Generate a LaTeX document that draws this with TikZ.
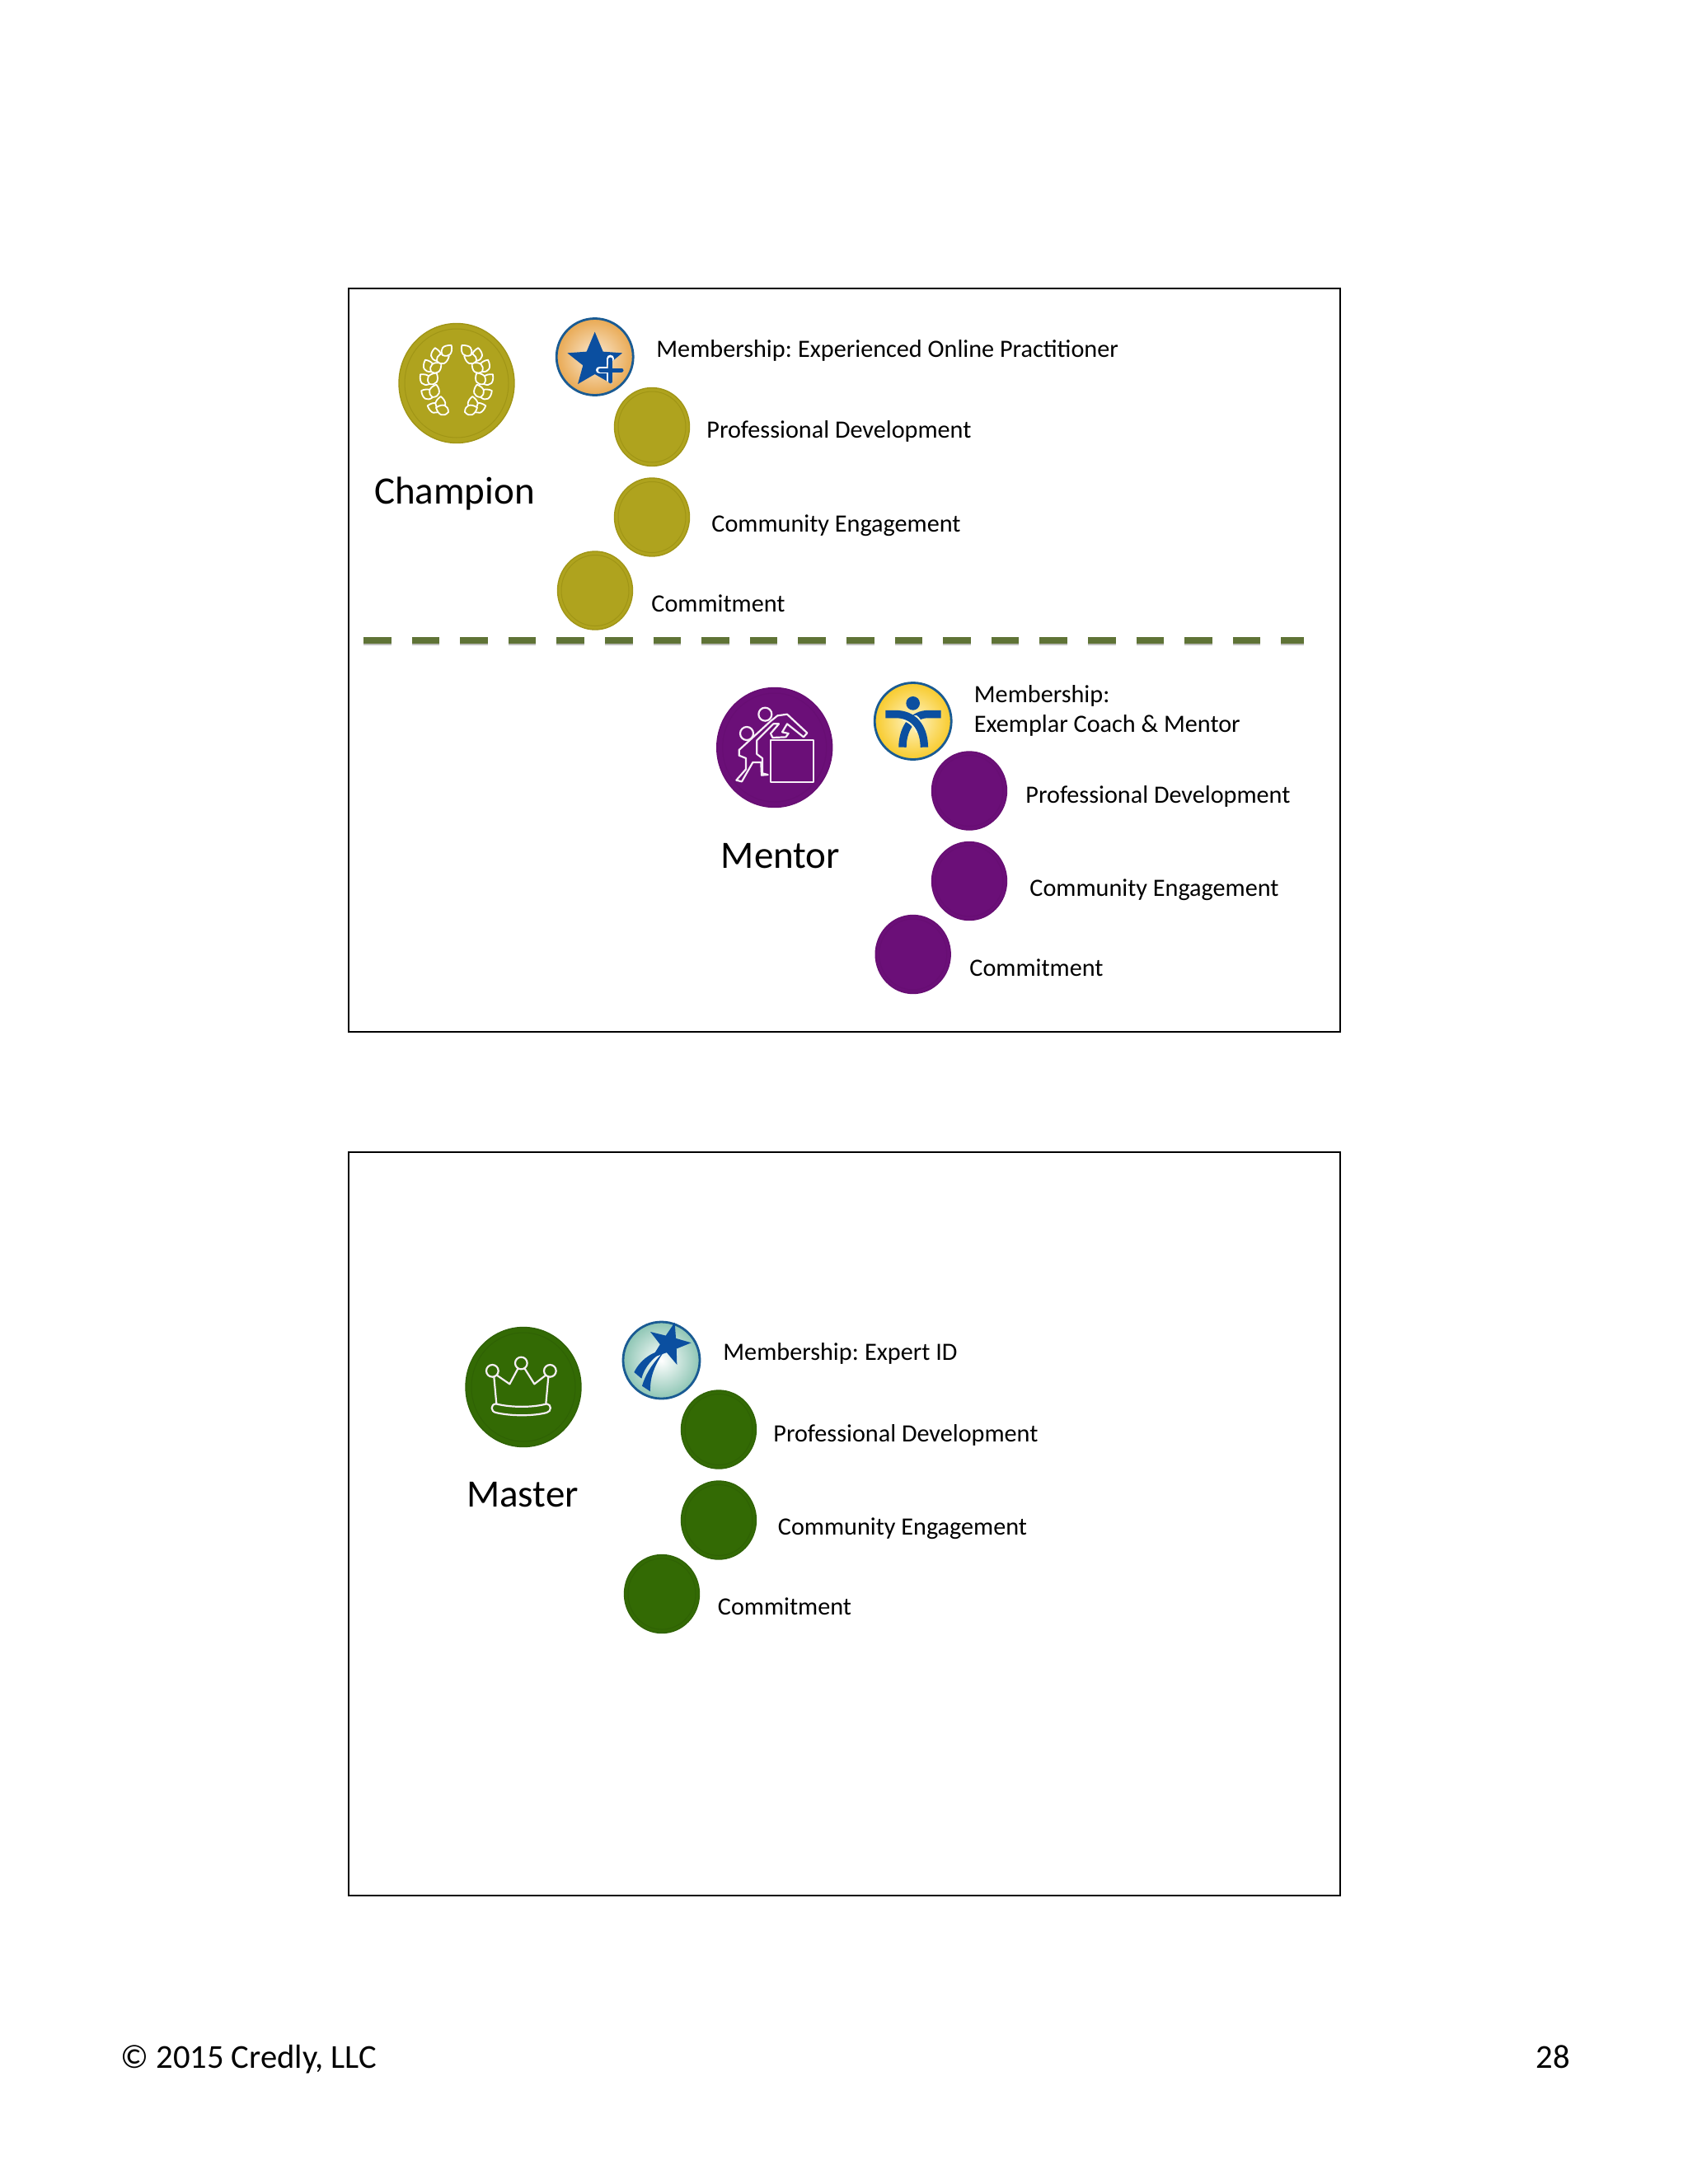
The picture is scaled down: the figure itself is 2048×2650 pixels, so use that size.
\documentclass[tikz,border=0pt]{standalone}
\usepackage{fontspec}
\setmainfont[Ligatures=Common]{Carlito}
\usetikzlibrary{shapes.geometric}
\definecolor{goldc}{HTML}{AFA31E}
\definecolor{goldr}{HTML}{A09516}
\definecolor{purpc}{HTML}{6B0F78}
\definecolor{purpr}{HTML}{670E73}
\definecolor{grnc}{HTML}{336A04}
\definecolor{grnr}{HTML}{2F6204}
\definecolor{dashc}{HTML}{5F7336}
\definecolor{bluec}{HTML}{0B4FA0}
\definecolor{ringc}{HTML}{1A5B93}
\definecolor{orangeo}{HTML}{E9AA55}
\definecolor{orangei}{HTML}{FBEBD5}
\definecolor{yello}{HTML}{F8CB2E}
\definecolor{yeli}{HTML}{FFF5C8}
\definecolor{tealo}{HTML}{8FC6B5}
\definecolor{iconw}{HTML}{F6EEF6}
\tikzset{
  frameb/.style={draw=black,line width=1pt,fill=white},
  lab/.style={anchor=mid west,inner sep=0pt,font=\fontsize{15.1}{18}\selectfont,text=black},
  lablines/.style={anchor=west,inner sep=0pt,align=left,font=\fontsize{15.1}{18}\selectfont,text=black},
  big/.style={anchor=mid,inner sep=0pt,font=\fontsize{23.5}{28}\selectfont,text=black},
  foot/.style={anchor=mid west,inner sep=0pt,font=\fontsize{20.3}{24}\selectfont,text=black},
  coinb/.style={ellipse,inner sep=0pt,minimum width=45.5pt,minimum height=47.5pt,line width=.7pt},
  bigcoin/.style={ellipse,inner sep=0pt,minimum width=140*.5pt,minimum height=145*.5pt,line width=.7pt},
  badge/.style={circle,inner sep=0pt,minimum size=46.5pt,draw=ringc,line width=1.4pt},
  icon/.style={draw=iconw,line width=1.1pt,line join=round,line cap=round},
  leafline/.style={draw=white,line width=.9pt,fill=goldc,line join=round},
}
\newcommand{\smallcoin}[5]{%
  \node[coinb,fill=#4,draw=#5] (#1) at (#2,#3) {};
  \draw[#5,line width=.5pt] (#1.center) ellipse [x radius=20.5pt,y radius=21.5pt];}
\newcommand{\largecoin}[5]{%
  \node[bigcoin,fill=#4,draw=#5] (#1) at (#2,#3) {};
  \draw[#5,line width=.5pt] (#1.center) ellipse [x radius=31.5pt,y radius=33pt];}
\newcommand{\leaf}[3]{% x,y,canvas angle
  \draw[leafline,shift={(#1,#2)},rotate=#3] (0,0) .. controls (3,-8) and (10,-8) .. (16,0) .. controls (10,8) and (3,8) .. (0,0) -- cycle;}
\begin{document}
\begin{tikzpicture}[x=.5pt,y=-.5pt]
\useasboundingbox (0,0) rectangle (2048,2650);
\fill[white] (0,0) rectangle (2048,2650);
% frames
\draw[frameb] (422.5,350) rectangle (1626,1252);
\draw[frameb] (422.5,1398) rectangle (1626,2300);
% ===== Champion
\largecoin{chbig}{554}{465}{goldc}{goldr}
\begin{scope}[shift={(554,465)}]
  \foreach \s in {-1,1}{
    \begin{scope}[xscale=\s]
    \foreach \px/\py/\d in {-20/32/125,-29/17/112,-33/1/95,-31/-14/78,-24/-27/60}{
      \leaf{\px}{\py}{\d+38}
      \leaf{\px}{\py}{\d-38}
    }
    \leaf{-17}{-34}{48}
    \leaf{-10}{35}{160}
    \end{scope}
  }
\end{scope}
\node[big] (chlab) at (551.5,607) {Champion};
\shade[inner color=orangei,outer color=orangeo] (721.7,433) circle (23pt);
\node[badge] (chbadge) at (721.7,433) {};
\begin{scope}[shift={(670,380)},scale=1/3]
  \fill[bluec,line join=round] (155,68) -- (185,140) -- (255,145) -- (200,190) -- (218,258) -- (155,222) -- (93,258) -- (112,190) -- (55,145) -- (125,140) -- cycle;
  \begin{scope}
    \clip (155,68) -- (185,140) -- (255,145) -- (200,190) -- (218,258) -- (155,222) -- (93,258) -- (112,190) -- (55,145) -- (125,140) -- cycle;
    \draw[white,line width=4.4pt,line cap=round] (212,165) -- (212,250) (172,207) -- (255,207);
  \end{scope}
  \draw[bluec,line width=2.5pt,line cap=round] (212,168) -- (212,248) (175,207) -- (252,207);
\end{scope}
\smallcoin{chpd}{791}{518}{goldc}{goldr}
\smallcoin{chce}{791}{627.5}{goldc}{goldr}
\smallcoin{chco}{722}{716.5}{goldc}{goldr}
\node[lab] (chm) at (796,429) {Membership:\kern-.9pt{} Experienced Online Practitioner};
\node[lab] (chpdt) at (857,527) {Professional Development};
\node[lab] (chcet) at (863,641) {Community Engagement};
\node[lab] (chcot) at (790,738) {Commitment};
% dashed divider
\coordinate (da) at (441,777);
\coordinate (db) at (1582,777);
\draw[black!25,line width=4pt,dash pattern=on 16.8pt off 12.5pt] ([yshift=-1pt]da) -- ([yshift=-1pt]db);
\draw[dashc,line width=4pt,dash pattern=on 16.8pt off 12.5pt] (da) -- (db);
% ===== Mentor
\largecoin{mebig}{939.7}{907}{purpc}{purpr}
\begin{scope}[shift={(880,840)},scale=1/3]
  \draw[icon] (145,80) circle (24);
  \draw[icon] (78,150) circle (24);
  \draw[icon] (165,175) rectangle (320,328);
  \draw[icon] (50,210) -- (165,105) -- (190,85) -- (225,80) -- (298,148) -- (285,163) -- (225,115) -- (207,145) -- (230,150) -- (220,163) -- (172,165) -- (165,150) -- (195,115) -- (175,115) -- (115,175) -- (115,225) -- (135,240) -- (135,295) -- (155,300) -- (132,302) -- (130,255) -- (100,255) -- (60,325) -- (40,320) -- (75,280) -- (75,240) -- (50,230) -- cycle;
\end{scope}
\node[big] (melab) at (947,1049) {Mentor};
\shade[inner color=yeli,outer color=yello] (1107.7,875) circle (23pt);
\node[badge] (mebadge) at (1107.7,875) {};
\begin{scope}[shift={(1055,820)},scale=1/3]
  \fill[bluec] (158,100) circle (25);
  \draw[bluec,line width=4.7pt] (260,140) -- (205,140) .. controls (150,145) and (120,200) .. (120,260);
  \begin{scope}
    \clip (120,145) rectangle (185,205);
    \draw[yeli,line width=6.8pt] (58,140) -- (105,140) .. controls (170,145) and (199,200) .. (199,260);
  \end{scope}
  \draw[bluec,line width=4.7pt] (58,140) -- (105,140) .. controls (170,145) and (199,200) .. (199,260);
\end{scope}
\smallcoin{mepd}{1176}{959.5}{purpc}{purpr}
\smallcoin{mece}{1176}{1069}{purpc}{purpr}
\smallcoin{meco}{1107.7}{1158}{purpc}{purpr}
\node[lablines] (mem) at (1181.5,862) {Membership:\\Exemplar Coach \& Mentor};
\node[lab] (mepdt) at (1244,970) {Professional Development};
\node[lab] (mecet) at (1249,1083) {Community Engagement};
\node[lab] (mecot) at (1176,1180) {Commitment};
% ===== Master
\largecoin{mabig}{635}{1683}{grnc}{grnr}
\begin{scope}[shift={(540,1570)},scale=1/3]
  \draw[icon] (172,280) circle (22);
  \draw[icon] (277,252) circle (22);
  \draw[icon] (382,280) circle (22);
  \draw[icon] (178,302) -- (187,400);
  \draw[icon] (376,302) -- (367,400);
  \draw[icon] (190,297) -- (235,328) -- (265,272);
  \draw[icon] (290,272) -- (325,328) -- (365,297);
  \draw[icon] (185,400) .. controls (240,414) and (320,414) .. (370,400) .. controls (388,402) and (388,428) .. (370,432) .. controls (320,445) and (240,445) .. (185,432) .. controls (165,428) and (165,402) .. (185,400) -- cycle;
\end{scope}
\node[big] (malab) at (634,1824) {Master};
\shade[inner color=white,outer color=tealo] (802.5,1650.5) circle (23pt);
\node[badge] (mabadge) at (802.5,1650.5) {};
\begin{scope}[shift={(540,1570)},scale=1/3]
  \node[star,star points=5,star point ratio=2.5,fill=bluec,inner sep=0pt,minimum size=27pt,rotate=-15] (mastar) at (815,182) {};
  \fill[bluec] (792,205) .. controls (740,215) and (705,250) .. (688,285) -- (715,308) .. controls (725,265) and (760,230) .. (792,210) -- cycle;
  \fill[bluec] (797,210) .. controls (760,245) and (730,290) .. (717,335) -- (747,355) .. controls (745,300) and (765,255) .. (797,210) -- cycle;
\end{scope}
\smallcoin{mapd}{872}{1734.5}{grnc}{grnr}
\smallcoin{mace}{872}{1844.5}{grnc}{grnr}
\smallcoin{maco}{803}{1934}{grnc}{grnr}
\node[lab] (mam) at (877,1646) {Membership:\kern-.9pt{} Expert ID};
\node[lab] (mapdt) at (938,1745) {Professional Development};
\node[lab] (macet) at (943.5,1858) {Community Engagement};
\node[lab] (macot) at (870.5,1955) {Commitment};
% footer
\node[foot] (fl) at (146,2505) {© 2015 Credly, LLC};
\node[foot,anchor=mid east] (fr) at (1905,2505) {28};
\end{tikzpicture}
\end{document}
